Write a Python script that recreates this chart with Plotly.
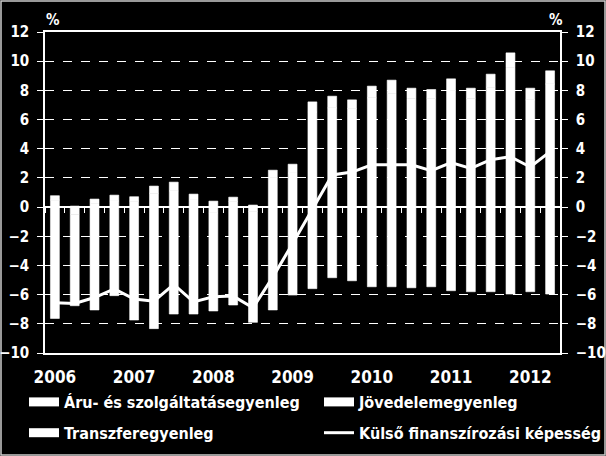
import plotly.graph_objects as go

# Negyedéves adatok, 2006 I. - 2012 II. (a GDP %-ában)
quarters = [
    "2006 I.", "2006 II.", "2006 III.", "2006 IV.",
    "2007 I.", "2007 II.", "2007 III.", "2007 IV.",
    "2008 I.", "2008 II.", "2008 III.", "2008 IV.",
    "2009 I.", "2009 II.", "2009 III.", "2009 IV.",
    "2010 I.", "2010 II.", "2010 III.", "2010 IV.",
    "2011 I.", "2011 II.", "2011 III.", "2011 IV.",
    "2012 I.", "2012 II.",
]
year_ticks = ["2006 I.", "2007 I.", "2008 I.", "2009 I.", "2010 I.", "2011 I.", "2012 I."]
year_labels = ["2006", "2007", "2008", "2009", "2010", "2011", "2012"]

goods_services = [0.48, -0.5, 0.25, 0.42, 0.41, 0.94, 1.11, 0.49, -0.4, 0.38, -0.3, 2.03, 2.34,
                  6.51, 6.8, 6.75, 7.49, 7.8, 7.45, 7.46, 7.99, 7.45, 8.21, 9.57, 7.35, 8.44]
income = [-7.63, -6.26, -7.05, -6.07, -7.74, -8.33, -7.33, -7.33, -6.72, -6.71, -7.6, -7.05, -6.03,
          -5.59, -4.84, -5.05, -5.46, -5.46, -5.53, -5.46, -5.73, -5.8, -5.8, -5.96, -5.8, -5.96]
transfers = [0.3, 0.07, 0.3, 0.4, 0.3, 0.5, 0.6, 0.4, 0.41, 0.3, 0.14, 0.5, 0.6,
             0.7, 0.8, 0.6, 0.8, 0.9, 0.7, 0.6, 0.8, 0.7, 0.9, 1.0, 0.8, 0.9]
financing = [-6.55, -6.6, -6.2, -5.6, -6.3, -6.45, -5.3, -6.5, -6.15, -6.1, -6.9, -4.8, -2.5,
             -0.1, 2.2, 2.4, 2.9, 2.9, 2.9, 2.5, 3.05, 2.65, 3.25, 3.45, 2.75, 3.8]

y_ticks = [-10, -8, -6, -4, -2, 0, 2, 4, 6, 8, 10, 12]

# Layout constants (px)
W, H = 606, 456
L, R, T, B = 45, 46, 32, 103
PW, PH = W - L - R, H - T - B

FONT = "DejaVu Sans Condensed, DejaVu Sans, sans-serif"
WHITE = "white"

fig = go.Figure()

bar_series = [("Áru- és szolgáltatásegyenleg", goods_services, "legend"),
              ("Jövedelemegyenleg", income, "legend2"),
              ("Transzferegyenleg", transfers, "legend")]

for name, vals, _ in bar_series:
    fig.add_trace(go.Bar(x=quarters, y=vals, name=name, marker_color=WHITE,
                         marker_line=dict(color=WHITE, width=0.6), showlegend=False))

# legend keys drawn as thick white bars, like the original
for name, _, leg in bar_series:
    fig.add_trace(go.Scatter(x=[None], y=[None], name=name, mode="lines",
                             line=dict(color=WHITE, width=9), legend=leg, legendgroup=name))

fig.add_trace(go.Scatter(x=quarters, y=financing, name="Külső finanszírozási képesség",
                         mode="lines", line=dict(color=WHITE, width=3), xaxis="x2",
                         legend="legend2", legendgroup="kfk"))

# invisible trace to drive the right-hand axis
fig.add_trace(go.Scatter(x=quarters, y=financing, yaxis="y2", mode="lines",
                         line=dict(width=0), showlegend=False, hoverinfo="skip"))

tick_font = dict(family=FONT, size=17, color=WHITE, weight="bold")
ytick_font = dict(family=FONT, size=15, color=WHITE, weight="bold")

yax = dict(range=[-10, 12], tickvals=y_ticks, showline=True, linecolor=WHITE, linewidth=1.5,
           ticks="outside", ticklen=6, tickcolor=WHITE, ticklabelstandoff=5,
           tickfont=ytick_font, automargin=False)

legend_common = dict(orientation="v", xref="paper", yref="container", xanchor="left",
                     yanchor="top", y=(H - 385) / H,
                     font=dict(family=FONT, size=16, color=WHITE, weight="bold"),
                     bgcolor="rgba(0,0,0,0)", itemwidth=30, tracegroupgap=7)

pct_font = dict(family=FONT, size=15, color=WHITE, weight="bold")

fig.update_layout(
    width=W, height=H,
    margin=dict(l=L, r=R, t=T, b=B, autoexpand=False),
    paper_bgcolor="black", plot_bgcolor="black",
    barmode="relative", bargap=0.55,
    font=dict(family=FONT, color=WHITE),
    xaxis=dict(type="category", categoryorder="array", categoryarray=quarters,
               range=[-0.5, 25.5], tickvals=year_ticks, ticktext=year_labels,
               ticks="", showline=True, linecolor=WHITE, linewidth=1.5, mirror=True,
               showgrid=False, ticklabelstandoff=8, tickfont=tick_font, automargin=False),
    xaxis2=dict(type="category", categoryorder="array", categoryarray=quarters,
                overlaying="x", anchor="free", position=10 / 22,
                range=[-0.5, 25.5], tickson="boundaries", ticks="outside", ticklen=5,
                tickcolor=WHITE, showticklabels=False, showline=False, showgrid=False,
                automargin=False),
    yaxis=dict(**yax, side="left", showgrid=True, gridcolor=WHITE, gridwidth=1,
               griddash="dash", zeroline=True, zerolinecolor=WHITE, zerolinewidth=1.5),
    yaxis2=dict(**yax, side="right", overlaying="y", showgrid=False, zeroline=False),
    legend=dict(**legend_common, x=(24 - L) / PW),
    legend2=dict(**legend_common, x=(319 - L) / PW),
    showlegend=True,
    annotations=[
        dict(text="%", xref="paper", yref="paper", x=(53 - L) / PW, y=(H - B - 20) / PH,
             xanchor="center", yanchor="middle", showarrow=False, font=pct_font),
        dict(text="%", xref="paper", yref="paper", x=(556 - L) / PW, y=(H - B - 20) / PH,
             xanchor="center", yanchor="middle", showarrow=False, font=pct_font),
    ],
    shapes=[
        dict(type="rect", xref="paper", yref="paper",
             x0=(-L + 1) / PW, x1=(W - L - 1) / PW, y0=(-B + 1) / PH, y1=(H - B - 1) / PH,
             line=dict(color="#cccccc", width=1.5), layer="below"),
    ],
)

# drop the browser's default body margin so the 606x456 figure fills the window
fig.write_html("out.html", config={"displayModeBar": False},
               post_script="document.body.style.margin = '0';")
